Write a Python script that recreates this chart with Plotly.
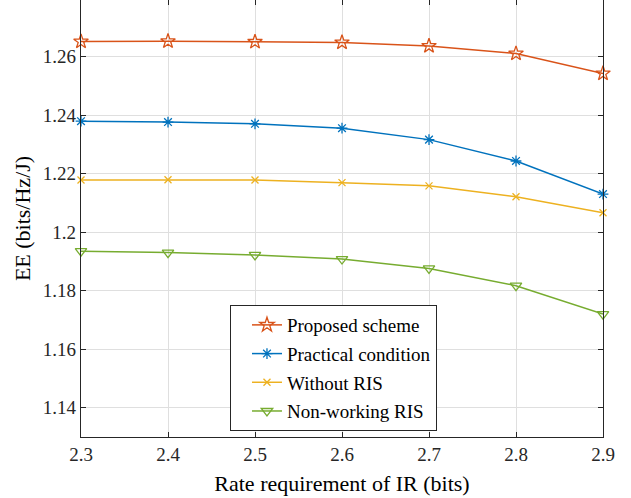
import plotly.graph_objects as go

rate = [2.3, 2.4, 2.5, 2.6, 2.7, 2.8, 2.9]
proposed = [1.2651, 1.2652, 1.2650, 1.2648, 1.2636, 1.2610, 1.2542]
practical = [1.2379, 1.2376, 1.2370, 1.2355, 1.2316, 1.2243, 1.2130]
without_ris = [1.2178, 1.2179, 1.2178, 1.2169, 1.2158, 1.2121, 1.2066]
nonworking = [1.1935, 1.1930, 1.1922, 1.1908, 1.1876, 1.1817, 1.1720]

names = ["Proposed scheme", "Practical condition", "Without RIS", "Non-working RIS"]
colors = ["#D95319", "#0072BD", "#EDB120", "#77AC30"]
symbols = ["star-open", "asterisk-open", "x-thin-open", "triangle-down-open"]
sizes = [11, 9, 7, 10]
series = [proposed, practical, without_ris, nonworking]

FONT = "Liberation Serif"
fig = go.Figure()
for i, (n, c, s, sz, y) in enumerate(zip(names, colors, symbols, sizes, series)):
    fig.add_trace(go.Scatter(
        x=rate, y=y, name=n, mode="lines+markers", legendgroup=f"g{i}",
        cliponaxis=False,
        line=dict(color=c, width=1.5),
        marker=dict(symbol=s, size=sz, color=c, line=dict(color=c, width=1.3)),
    ))

# invisible trace on top axis for top ticks
fig.add_trace(go.Scatter(x=rate, y=proposed, xaxis="x2", showlegend=False,
                         mode="lines", line=dict(width=0), hoverinfo="skip"))

fig.update_layout(
    width=631, height=498,
    margin=dict(l=81, r=28, t=0, b=61),
    plot_bgcolor="white", paper_bgcolor="white",
    font=dict(family=FONT, size=19, color="#262626"),
    xaxis=dict(
        range=[2.3, 2.9], tickvals=[2.3, 2.4, 2.5, 2.6, 2.7, 2.8, 2.9],
        ticktext=["2.3", "2.4", "2.5", "2.6", "2.7", "2.8", "2.9"],
        showgrid=True, gridcolor="#dfdfdf", gridwidth=1,
        showline=True, linecolor="#262626", linewidth=1.2,
        ticks="inside", ticklen=5, tickcolor="#262626",
        zeroline=False,
        title=dict(text="Rate requirement of IR (bits)", font=dict(family=FONT, size=22, color="#000"), standoff=11),
        tickfont=dict(family=FONT, size=19),
    ),
    xaxis2=dict(
        range=[2.3, 2.9], overlaying="x", side="top",
        tickvals=[2.3, 2.4, 2.5, 2.6, 2.7, 2.8, 2.9], showticklabels=False,
        ticks="inside", ticklen=5, tickcolor="#262626",
        showgrid=False, showline=False, zeroline=False,
    ),
    yaxis=dict(
        range=[1.13, 1.2793],
        tickvals=[1.14, 1.16, 1.18, 1.2, 1.22, 1.24, 1.26],
        ticktext=["1.14", "1.16", "1.18", "1.2", "1.22", "1.24", "1.26"],
        showgrid=True, gridcolor="#dfdfdf", gridwidth=1,
        showline=True, linecolor="#262626", linewidth=1.2, mirror="ticks",
        ticks="inside", ticklen=5, tickcolor="#262626",
        zeroline=False,
        title=dict(text="EE (bits/Hz/J)", font=dict(family=FONT, size=22, color="#000"), standoff=6),
        tickfont=dict(family=FONT, size=19),
    ),
    legend=dict(
        x=0.2854, y=0.302, xanchor="left", yanchor="top",
        bordercolor="#262626", borderwidth=1, bgcolor="white",
        font=dict(family=FONT, size=19, color="#000"),
        tracegroupgap=1, indentation=16, entrywidth=215,
    ),
    showlegend=True,
)

fig.write_html("out.html")
